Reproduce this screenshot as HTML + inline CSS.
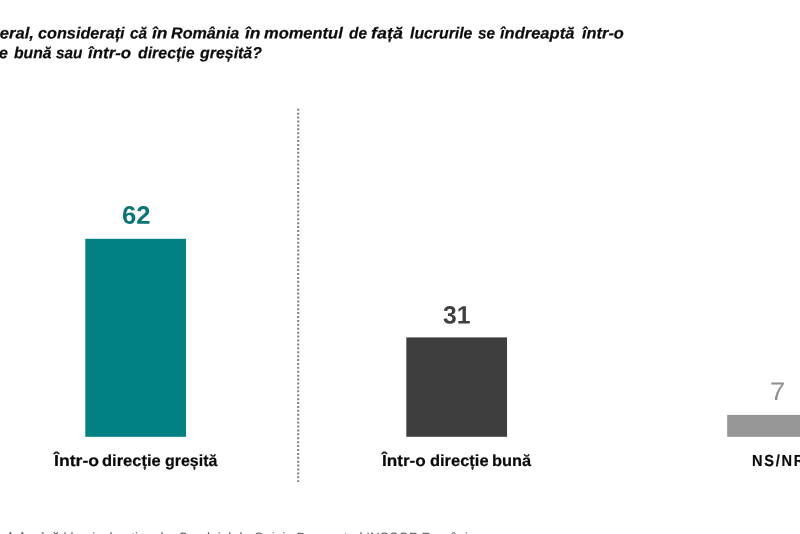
<!DOCTYPE html>
<html lang="ro">
<head>
<meta charset="utf-8">
<title>Sondaj - direcția în care se îndreaptă lucrurile</title>
<style>
html,body{margin:0;padding:0;background:#fff;}
body{width:800px;height:534px;position:relative;overflow:hidden;font-family:"Liberation Sans",sans-serif;color:#111;text-rendering:geometricPrecision;}
span{position:absolute;white-space:nowrap;line-height:1;transform-origin:0 0;}
.q{font-weight:bold;font-style:italic;font-size:16px;color:#0c0c0c;-webkit-text-stroke:0.2px #0c0c0c;}
.lab{font-weight:bold;font-size:16px;color:#0a0a0a;-webkit-text-stroke:0.2px #0a0a0a;}
.val{transform-origin:0 0;}
.bar{position:absolute;}
.foot{font-size:13.5px;color:#555;}
</style>
</head>
<body>
<span class="q" style="left:-48.99px;top:26px;transform:translateY(0.5px) rotate(0.03deg) scaleX(1.0355)">În general,</span>
<span class="q" style="left:37.99px;top:26px;transform:translateY(0.5px) rotate(0.03deg) scaleX(1.0147)">considerați</span>
<span class="q" style="left:129.51px;top:26px;transform:translateY(0.5px) rotate(0.03deg) scaleX(0.96)">că</span>
<span class="q" style="left:152.23px;top:26px;transform:translateY(0.5px) rotate(0.03deg) scaleX(1.0943)">în</span>
<span class="q" style="left:171.45px;top:26px;transform:translateY(0.5px) rotate(0.03deg) scaleX(1.0082)">România</span>
<span class="q" style="left:244.73px;top:26px;transform:translateY(0.5px) rotate(0.03deg) scaleX(1.0943)">în</span>
<span class="q" style="left:264.44px;top:26px;transform:translateY(0.5px) rotate(0.03deg) scaleX(1.0301)">momentul</span>
<span class="q" style="left:349.0px;top:26px;transform:translateY(0.5px) rotate(0.03deg) scaleX(0.96)">de</span>
<span class="q" style="left:371.15px;top:26px;transform:translateY(0.5px) rotate(0.03deg) scaleX(1.12)">față</span>
<span class="q" style="left:409.75px;top:26px;transform:translateY(0.5px) rotate(0.03deg) scaleX(0.9888)">lucrurile</span>
<span class="q" style="left:477.85px;top:26px;transform:translateY(0.5px) rotate(0.03deg) scaleX(0.96)">se</span>
<span class="q" style="left:500.34px;top:26px;transform:translateY(0.5px) rotate(0.03deg) scaleX(1.0322)">îndreaptă</span>
<span class="q" style="left:581.64px;top:26px;transform:translateY(0.5px) rotate(0.03deg) scaleX(1.0236)">într-o</span>
<span class="q" style="left:-49.20px;top:46px;transform:translateY(0.2px) rotate(0.03deg) scaleX(1)">direcție</span>
<span class="q" style="left:13.75px;top:46px;transform:translateY(0.2px) rotate(0.03deg) scaleX(0.9801)">bună</span>
<span class="q" style="left:55.85px;top:46px;transform:translateY(0.2px) rotate(0.03deg) scaleX(0.96)">sau</span>
<span class="q" style="left:87.84px;top:46px;transform:translateY(0.2px) rotate(0.03deg) scaleX(1.0559)">într-o</span>
<span class="q" style="left:137.6px;top:46px;transform:translateY(0.2px) rotate(0.03deg) scaleX(0.9938)">direcție</span>
<span class="q" style="left:200.2px;top:46px;transform:translateY(0.2px) rotate(0.03deg) scaleX(0.9952)">greșită?</span>

<svg style="position:absolute;left:0;top:0" width="800" height="534"><line x1="298.2" y1="108.8" x2="298.2" y2="481.9" stroke="#7d7d7d" stroke-width="2" stroke-dasharray="2 1.91"/></svg>

<svg style="position:absolute;left:0;top:0" width="800" height="534">
<rect x="85.3" y="238.8" width="100.75" height="198" fill="#008080"/>
<rect x="406.3" y="337.4" width="100.75" height="99.4" fill="#3e3e3e"/>
<rect x="727.2" y="414.9" width="90" height="21.9" fill="#969696"/>
</svg>

<span class="lab" style="left:54.23px;top:454px;transform:translateY(0.0px) rotate(0.03deg) scaleX(1.1024)">Într-o</span>
<span class="lab" style="left:102.43px;top:454px;transform:translateY(0.0px) rotate(0.03deg) scaleX(1.0306)">direcție</span>
<span class="lab" style="left:165.45px;top:454px;transform:translateY(0.0px) rotate(0.03deg) scaleX(0.9971)">greșită</span>
<span class="lab" style="left:381.5px;top:454px;transform:translateY(0.0px) rotate(0.03deg) scaleX(1.0707)">Într-o</span>
<span class="lab" style="left:429.63px;top:454px;transform:translateY(0.0px) rotate(0.03deg) scaleX(1.0288)">direcție</span>
<span class="lab" style="left:492.48px;top:454px;transform:translateY(0.0px) rotate(0.03deg) scaleX(1.0228)">bună</span>
<span class="lab" style="left:751.84px;top:454px;transform:translateY(0.0px) rotate(0.03deg) scaleX(0.91);letter-spacing:1.944px">NS/NR</span>
<span class="val" style="left:121.68px;top:203px;font-size:25.28px;font-weight:bold;color:#0b7476;transform:translateY(0.69px) rotate(0.03deg) scaleX(1.015)">62</span>
<span class="val" style="left:443.11px;top:303px;font-size:25.21px;font-weight:bold;color:#3f3f3f;transform:translateY(0.52px) rotate(0.03deg) scaleX(0.979)">31</span>
<span class="val" style="left:769.95px;top:380px;font-size:25.36px;font-weight:normal;color:#8e8e8e;transform:translateY(0.1px) rotate(0.03deg) scaleX(1.078)">7</span>

<span class="foot" style="left:-62px;top:531px;"><b>Notă metodologică</b> | la nivel național – Sondajul de Opinie Barometrul INSCOP România</span>
</body>
</html>
